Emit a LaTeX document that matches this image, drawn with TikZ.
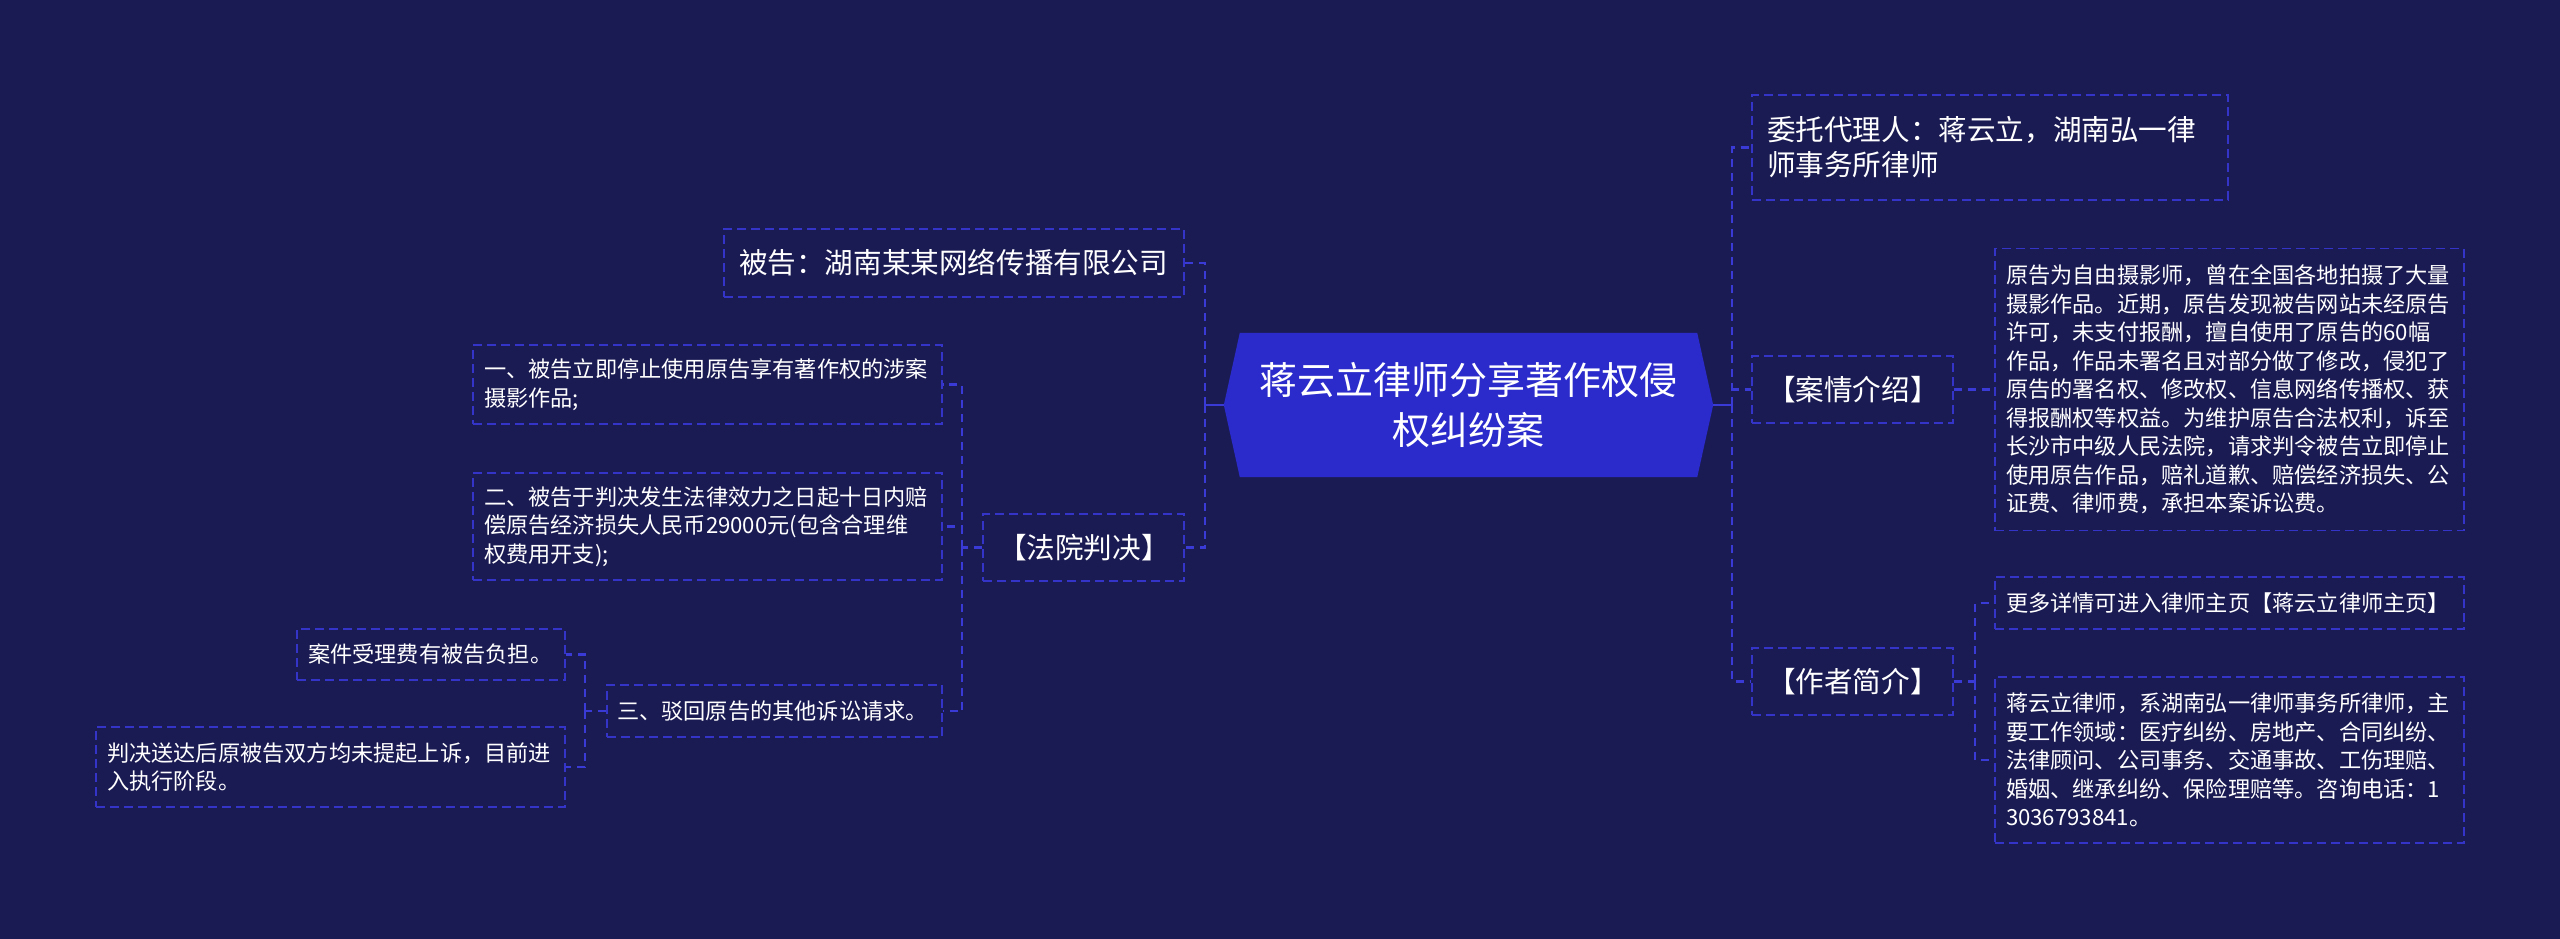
\documentclass[tikz,border=0pt]{standalone}
\usepackage{fontspec}
\setmainfont{Noto Sans CJK SC}
\usetikzlibrary{calc}
\pgfdeclarelayer{bg}\pgfdeclarelayer{shape}\pgfsetlayers{bg,shape,main}
\definecolor{bgc}{RGB}{27,27,84}
\definecolor{hexc}{RGB}{43,43,204}
\definecolor{linec}{RGB}{58,58,214}
\definecolor{boxc}{RGB}{52,52,200}
\begin{document}
\begin{tikzpicture}[x=1pt,y=-1pt,
  lvone/.style={draw=boxc, line width=1.5pt, dash pattern=on 9pt off 5pt, text=white, inner ysep=0pt, align=left, font=\fontsize{28.6}{35}\selectfont, inner xsep=15pt},
  lvtwo/.style={draw=boxc, line width=1.5pt, dash pattern=on 9pt off 5pt, text=white, inner ysep=0pt, align=left, font=\fontsize{22.2}{28.5}\selectfont, inner xsep=11pt},
  conn/.style={draw=linec, line width=2.5pt, dash pattern=on 8pt off 6pt},
  stub/.style={draw=linec, line width=2.5pt},
]
\useasboundingbox (0,0) rectangle (2560,939);
\begin{pgfonlayer}{bg}\fill[bgc] (0,0) rectangle (2560,939);\end{pgfonlayer}

% central node
\node[text=white, align=center, font=\fontsize{38}{50}\selectfont, minimum width=489pt, minimum height=144pt, inner sep=0pt] (c) at (1468.5,405) {蒋云立律师分享著作权侵\\权纠纷案};
\begin{pgfonlayer}{shape}
\fill[hexc] (c.west) -- ([xshift=16pt]c.north west) -- ([xshift=-16pt]c.north east) -- (c.east) -- ([xshift=-16pt]c.south east) -- ([xshift=16pt]c.south west) -- cycle;
\end{pgfonlayer}

% right side
\node[lvone, text width=446pt, minimum height=105pt] (agent) at (1990,147.5) {委托代理人：蒋云立，湖南弘一律\\师事务所律师};
\node[lvone, text width=171pt, minimum height=67pt] (case) at (1852.5,389.5) {【案情介绍】};
\node[lvone, text width=171pt, minimum height=67pt] (author) at (1852.5,681.5) {【作者简介】};
\node[lvtwo, text width=447pt, minimum height=282pt] (detail) at (2229.5,389.5) {原告为自由摄影师，曾在全国各地拍摄了大量\\摄影作品。近期，原告发现被告网站未经原告\\许可，未支付报酬，擅自使用了原告的60幅\\作品，作品未署名且对部分做了修改，侵犯了\\原告的署名权、修改权、信息网络传播权、获\\得报酬权等权益。为维护原告合法权利，诉至\\长沙市中级人民法院，请求判令被告立即停止\\使用原告作品，赔礼道歉、赔偿经济损失、公\\证费、律师费，承担本案诉讼费。};
\node[lvtwo, text width=447pt, minimum height=52pt] (more) at (2229.5,603) {更多详情可进入律师主页【蒋云立律师主页】};
\node[lvtwo, text width=447pt, minimum height=166pt] (bio) at (2229.5,760) {蒋云立律师，系湖南弘一律师事务所律师，主\\要工作领域：医疗纠纷、房地产、合同纠纷、\\法律顾问、公司事务、交通事故、工伤理赔、\\婚姻、继承纠纷、保险理赔等。咨询电话：1\\3036793841。};

% left side
\node[lvone, text width=430pt, minimum height=68pt] (def) at (954,263) {被告：湖南某某网络传播有限公司};
\node[lvone, text width=171pt, minimum height=67pt] (court) at (1083.5,547.5) {【法院判决】};
\node[lvtwo, text width=447pt, minimum height=79pt] (j1) at (707.5,384.5) {一、被告立即停止使用原告享有著作权的涉案\\摄影作品;};
\node[lvtwo, text width=447pt, minimum height=107pt] (j2) at (707.5,526.5) {二、被告于判决发生法律效力之日起十日内赔\\偿原告经济损失人民币29000元(包含合理维\\权费用开支);};
\node[lvtwo, inner xsep=10pt, text width=315pt, minimum height=52pt] (j3) at (774.5,711) {三、驳回原告的其他诉讼请求。};
\node[lvtwo, inner xsep=11pt, text width=246pt, minimum height=51pt] (fee) at (431,654.5) {案件受理费有被告负担。};
\node[lvtwo, text width=447pt, minimum height=80pt] (final) at (330.5,767) {判决送达后原被告双方均未提起上诉，目前进\\入执行阶段。};

% trunk coordinates
\coordinate (rt) at (1732,405);
\coordinate (lt) at (1205,405);
\coordinate (at) at (1975,681.5);
\coordinate (ct) at (962,547.5);
\coordinate (t3) at (585,711);

% connectors
\draw[stub] (c.east) -- (rt);
\draw[stub] (c.west) -- (lt);
\draw[conn] (rt) |- (agent.west);
\draw[conn] (rt) |- (case.west);
\draw[conn] (rt) |- (author.west);
\draw[conn] (case.east) -- (detail.west);
\draw[conn] (author.east) -- (at);
\draw[conn] (at) |- (more.west);
\draw[conn] (at) |- (bio.west);

\draw[conn] (lt) |- (def.east);
\draw[conn] (lt) |- (court.east);
\draw[conn] (court.west) -- (ct);
\draw[conn] (ct) |- (j1.east);
\draw[conn] (ct) |- (j2.east);
\draw[conn] (ct) |- (j3.east);
\draw[conn] (j3.west) -- (t3);
\draw[conn] (t3) |- (fee.east);
\draw[conn] (t3) |- (final.east);
\end{tikzpicture}
\end{document}
